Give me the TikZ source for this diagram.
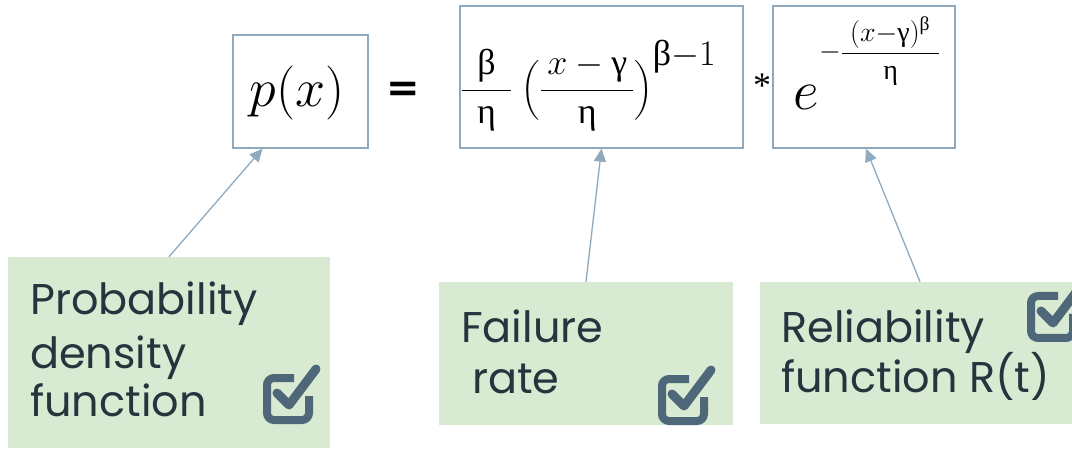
\RequirePackage{fix-cm}
\documentclass[tikz,border=0pt]{standalone}
\usepackage{amsmath}
\usepackage{fontspec}
\usetikzlibrary{arrows.meta}
\newfontfamily\popf{Poppins}
\newfontfamily\grk{Liberation Serif}
\newfontfamily\djv{DejaVu Sans}
\definecolor{bordc}{RGB}{143,170,190}
\definecolor{grn}{RGB}{217,234,211}
\definecolor{txtc}{RGB}{38,52,62}
\definecolor{chkc}{RGB}{78,104,122}
\newcommand{\gkb}{\text{\grk β}}
\newcommand{\gke}{\text{\grk η}}
\newcommand{\gkg}{\text{\grk γ}}
\tikzset{
  frm/.style={draw=bordc, line width=1.3pt, inner sep=0pt},
  gbox/.style={fill=grn, draw=none, inner sep=0pt},
  lbl/.style={font=\popf\fontsize{43}{50}\selectfont, text=txtc, inner sep=0pt, anchor=base west},
  arr/.style={draw=bordc, line width=1.3pt, -{Triangle[length=13pt,width=12pt]}},
  chk/.pic={
    \draw[chkc, line width=8pt, rounded corners=7pt] (31,4) -- (4,4) -- (4,46) -- (46,46) -- (46,22);
    \draw[chkc, line width=9pt, line cap=round, line join=round] (14,19) -- (26,31) -- (53,-5);
  }
}
\begin{document}
\begin{tikzpicture}[x=1pt,y=-1pt]
\useasboundingbox (0,0) rectangle (1072,449);
% formula boxes
\node[frm, minimum width=135pt, minimum height=113pt] (px) at (300.5,91.5) {};
\node[frm, minimum width=283pt, minimum height=142pt] (fr) at (601.5,77) {};
\node[frm, minimum width=182pt, minimum height=142pt] (ex) at (864,77) {};
% formula texts
\node[inner sep=0pt, anchor=base, font=\fontsize{54}{60}\selectfont] (pxt) at (297,107) {$p(x)$};
\node[inner sep=0pt, font=\djv\bfseries\fontsize{40}{48}\selectfont] (eq) at (403,92) {=};
\node[inner sep=0pt, anchor=base west, font=\fontsize{36}{44}\selectfont] (frt) at (461,99)
  {$\displaystyle\frac{\hspace{15pt}\gkb\hspace{15pt}}{\gke}\;\Bigl(\frac{\,x-\gkg\,}{\gke}\Bigr)^{\raisebox{2pt}{$\textstyle\gkb{-}1$}}$};
\node[inner sep=0pt, font=\grk\fontsize{36}{44}\selectfont] (st) at (762,86) {*};
\node[inner sep=0pt, anchor=base west, font=\fontsize{56}{60}\selectfont] (et) at (793,110) {$e$};
\node[inner sep=0pt, anchor=base west, font=\fontsize{28}{32}\selectfont] (ext) at (819,60)
  {$-\displaystyle\frac{\hspace{8pt}(x{-}\gkg)^{\gkb}\hspace{9pt}}{\gke}$};
% green boxes
\node[gbox, minimum width=322pt, minimum height=191pt] (ga) at (169,352.5) {};
\node[gbox, minimum width=294pt, minimum height=143pt] (gbx) at (586,353.5) {};
\node[gbox, minimum width=312pt, minimum height=142pt] (gc) at (916,353) {};
% labels
\node[lbl] (a1) at (30,315) {Probability};
\node[lbl] (a2) at (30,368) {density};
\node[lbl] (a3) at (30,417) {function};
\node[lbl] (b1) at (461,343) {Failure};
\node[lbl] (b2) at (472,393) {rate};
\node[lbl] (c1) at (781,343) {Reliability};
\node[lbl] (c2) at (781,392) {function R(t)};
% check icons
\pic at (263,374) {chk};
\pic at (658,375) {chk};
\pic at (1027,292) {chk};
% arrows
\draw[arr] (ga.north) -- ([xshift=-38pt]px.south);
\draw[arr] (gbx.north) -- (fr.south);
\draw[arr] ([xshift=4pt]gc.north) -- ([xshift=2pt]ex.south);
\end{tikzpicture}
\end{document}
